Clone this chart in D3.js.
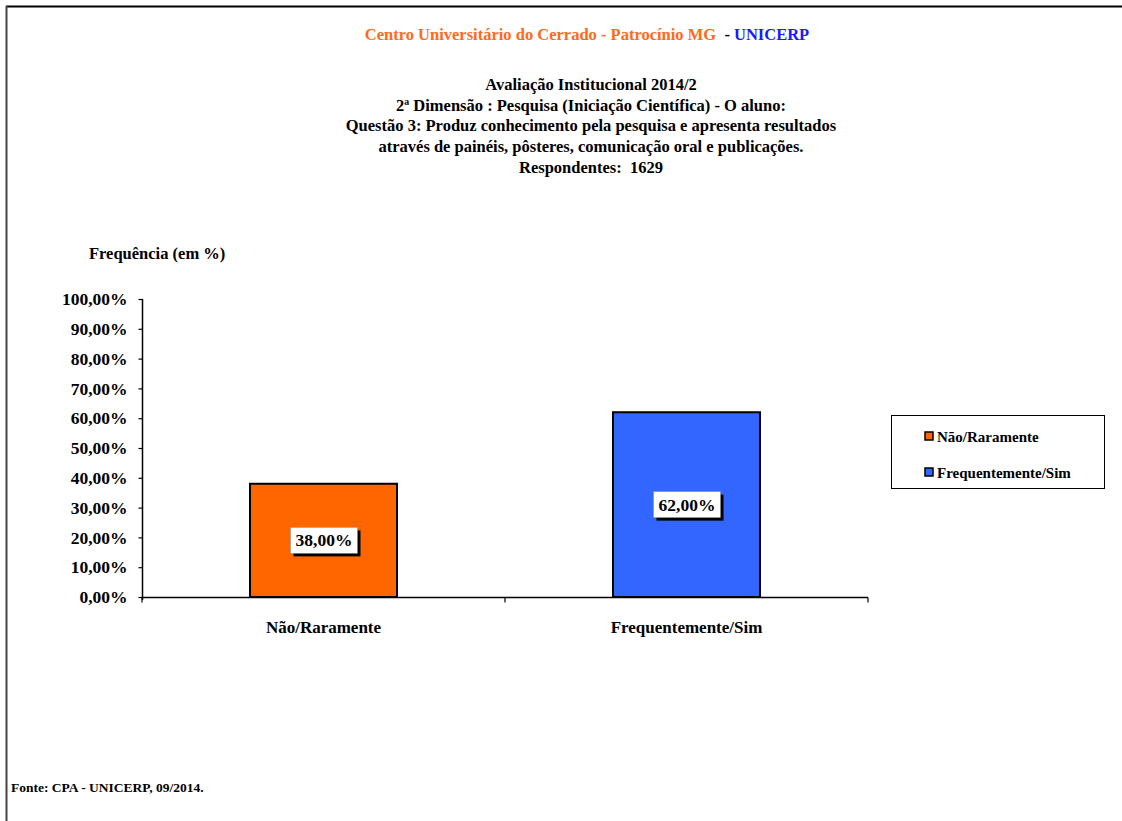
<!DOCTYPE html>
<html>
<head>
<meta charset="utf-8">
<script src="https://cdn.jsdelivr.net/npm/d3@7"></script>
<style>
  html, body { margin: 0; padding: 0; background: #fff; }
  svg { display: block; font-family: "Liberation Serif", "Times New Roman", serif; font-weight: bold; }
  svg text { font-family: "Liberation Serif", "Times New Roman", serif; font-weight: bold; }
</style>
</head>
<body>
<svg id="chart" width="1122" height="821"></svg>
<script>
const categories = ["Não/Raramente", "Frequentemente/Sim"];
const values = [38.00, 62.00];
const colors = ["#FF6600", "#3366FF"];
const yTicks = [0, 10, 20, 30, 40, 50, 60, 70, 80, 90, 100];
const subtitleLines = [
  "Avaliação Institucional 2014/2",
  "2ª Dimensão : Pesquisa (Iniciação Científica) - O aluno:",
  "Questão 3: Produz conhecimento pela pesquisa e apresenta resultados",
  "através de painéis, pôsteres, comunicação oral e publicações.",
  "Respondentes:  1629"
];

const fmt = v => v.toFixed(2).replace(".", ",") + "%";

const svg = d3.select("#chart");

// frame
svg.append("line").attr("x1", 6).attr("x2", 1122).attr("y1", 6.5).attr("y2", 6.5)
  .attr("stroke", "#000").attr("stroke-width", 2);
svg.append("line").attr("x1", 6.5).attr("x2", 6.5).attr("y1", 6).attr("y2", 821)
  .attr("stroke", "#444").attr("stroke-width", 2);

// title
const t = svg.append("text").attr("x", 587).attr("y", 40).attr("text-anchor", "middle")
  .attr("font-size", 16.5).attr("xml:space", "preserve");
t.append("tspan").attr("fill", "#FF6A1A").text("Centro Universitário do Cerrado - Patrocínio MG");
t.append("tspan").attr("fill", "#000").text("  - ");
t.append("tspan").attr("fill", "#1A1AFF").text("UNICERP");

svg.append("g").selectAll("text").data(subtitleLines).join("text")
  .attr("x", 591).attr("y", (d, i) => 90 + i * 20.7)
  .attr("text-anchor", "middle").attr("font-size", 16.5).attr("fill", "#000")
  .attr("xml:space", "preserve")
  .text(d => d);

svg.append("text").attr("x", 89).attr("y", 259).attr("font-size", 16.5).text("Frequência (em %)");
svg.append("text").attr("x", 11).attr("y", 792).attr("font-size", 13.5).text("Fonte: CPA - UNICERP, 09/2014.");

// scales
const x = d3.scaleBand().domain(categories).range([142, 868]).paddingInner(0.595).paddingOuter(0.2975);
const xb = d3.scaleBand().domain(categories).range([142, 868]);
const y = d3.scaleLinear().domain([0, 100]).range([597, 299]);

// y axis
const yAxis = d3.axisLeft(y).tickValues(yTicks).tickFormat(d => d.toFixed(2).replace(".", ",") + "%").tickSize(4).tickPadding(11);
const gy = svg.append("g").attr("transform", "translate(142.5,0)").call(yAxis);
gy.selectAll(".domain").attr("stroke", "#000").attr("stroke-width", 1.5).attr("d", "M0,299V600");
gy.selectAll(".tick line").attr("stroke", "#000").attr("stroke-width", 1.2);
gy.selectAll(".tick text").attr("font-size", 17.5).attr("fill", "#000")
  .attr("font-family", "Liberation Serif, serif").attr("font-weight", "bold");

// x axis
const gx = svg.append("g").attr("transform", "translate(0,597.5)");
gx.append("line").attr("x1", 142).attr("x2", 868).attr("y1", 0).attr("y2", 0)
  .attr("stroke", "#000").attr("stroke-width", 1.5);
const boundaries = [xb(categories[0]), xb(categories[1]), xb(categories[1]) + xb.bandwidth()];
gx.selectAll("line.tk").data(boundaries).join("line").attr("class", "tk")
  .attr("x1", d => d).attr("x2", d => d).attr("y1", 0).attr("y2", 5)
  .attr("stroke", "#000").attr("stroke-width", 1.2);
svg.append("g").selectAll("text").data(categories).join("text")
  .attr("x", d => xb(d) + xb.bandwidth() / 2).attr("y", 633)
  .attr("text-anchor", "middle").attr("font-size", 17).attr("fill", "#000").text(d => d);

// bars
svg.append("g").selectAll("rect").data(values).join("rect")
  .attr("x", (d, i) => x(categories[i]))
  .attr("y", d => y(d))
  .attr("width", x.bandwidth())
  .attr("height", d => y(0) - y(d))
  .attr("fill", (d, i) => colors[i])
  .attr("stroke", "#000").attr("stroke-width", 2);

// labels with shadow boxes
const lg = svg.append("g").selectAll("g").data(values).join("g")
  .attr("transform", (d, i) => `translate(${x(categories[i]) + x.bandwidth() / 2},${(y(d) + y(0)) / 2})`);
lg.append("rect").attr("x", -30).attr("y", -10).attr("width", 67).attr("height", 26).attr("fill", "#000");
lg.append("rect").attr("x", -33).attr("y", -13).attr("width", 67).attr("height", 26)
  .attr("fill", "#fff").attr("stroke", "#888").attr("stroke-width", 0.5);
lg.append("text").attr("x", 0.5).attr("y", 6).attr("text-anchor", "middle")
  .attr("font-size", 17.5).attr("fill", "#000").text(d => fmt(d));

// legend
const leg = svg.append("g");
leg.append("rect").attr("x", 891.5).attr("y", 415.5).attr("width", 213).attr("height", 73)
  .attr("fill", "#fff").attr("stroke", "#000").attr("stroke-width", 1);
const li = leg.selectAll("g").data(categories).join("g")
  .attr("transform", (d, i) => `translate(925,${436 + i * 36})`);
li.append("rect").attr("x", 0).attr("y", -4).attr("width", 8).attr("height", 8)
  .attr("fill", (d, i) => colors[i]).attr("stroke", "#000").attr("stroke-width", 1.5);
li.append("text").attr("x", 12).attr("y", 5.5).attr("font-size", 15).attr("fill", "#000").text(d => d);
</script>
</body>
</html>
